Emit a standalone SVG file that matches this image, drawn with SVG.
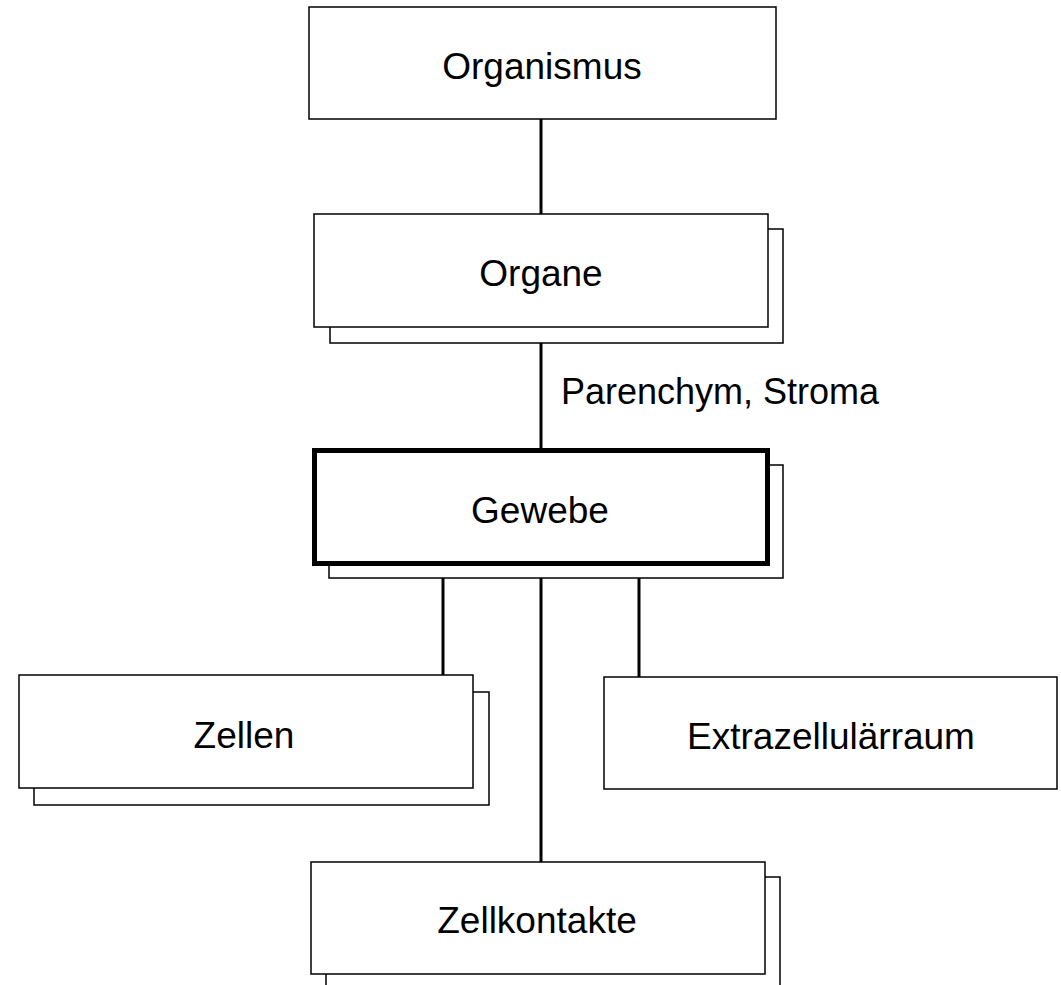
<svg xmlns="http://www.w3.org/2000/svg" width="1061" height="985" viewBox="0 0 1061 985">
<style>
.box{fill:#fff;stroke:#000;stroke-width:1.5}
.thick{fill:#fff;stroke:#000;stroke-width:5}
.t{font-family:"Liberation Sans",Arial,sans-serif;font-size:37px;fill:#000;text-anchor:middle}
.lbl{font-family:"Liberation Sans",Arial,sans-serif;font-size:36px;fill:#000}
.c{stroke:#000;stroke-width:3;fill:none}
</style>
<rect width="1061" height="985" fill="#fff"/>
<g id="connectors">
<line class="c" x1="541" y1="119" x2="541" y2="214"/>
<line class="c" x1="541" y1="343" x2="541" y2="448"/>
<line class="c" x1="443" y1="578" x2="443" y2="675"/>
<line class="c" x1="541" y1="578" x2="541" y2="862"/>
<line class="c" x1="639" y1="578" x2="639" y2="677"/>
<text class="lbl" x="561" y="404">Parenchym, Stroma</text>
</g>
<g id="organismus">
<rect class="box" x="309" y="7" width="467" height="112"/>
<text class="t" x="542" y="79">Organismus</text>
</g>
<g id="organe">
<rect class="box" x="330" y="229" width="453" height="114"/>
<rect class="box" x="314" y="214" width="454" height="113"/>
<text class="t" x="541" y="286">Organe</text>
</g>
<g id="gewebe">
<rect class="box" x="329" y="465" width="454" height="113"/>
<rect class="thick" x="314.5" y="450.5" width="453" height="113"/>
<text class="t" x="540" y="523">Gewebe</text>
</g>
<g id="zellen">
<rect class="box" x="34" y="692" width="455" height="113"/>
<rect class="box" x="19" y="675" width="454" height="113"/>
<text class="t" x="244" y="748">Zellen</text>
</g>
<g id="extrazellularraum">
<rect class="box" x="604" y="677" width="453" height="112"/>
<text class="t" x="831" y="749">Extrazellulärraum</text>
</g>
<g id="zellkontakte">
<rect class="box" x="326" y="877" width="454" height="120"/>
<rect class="box" x="311" y="862" width="454" height="112"/>
<text class="t" x="537" y="933">Zellkontakte</text>
</g>
</svg>
